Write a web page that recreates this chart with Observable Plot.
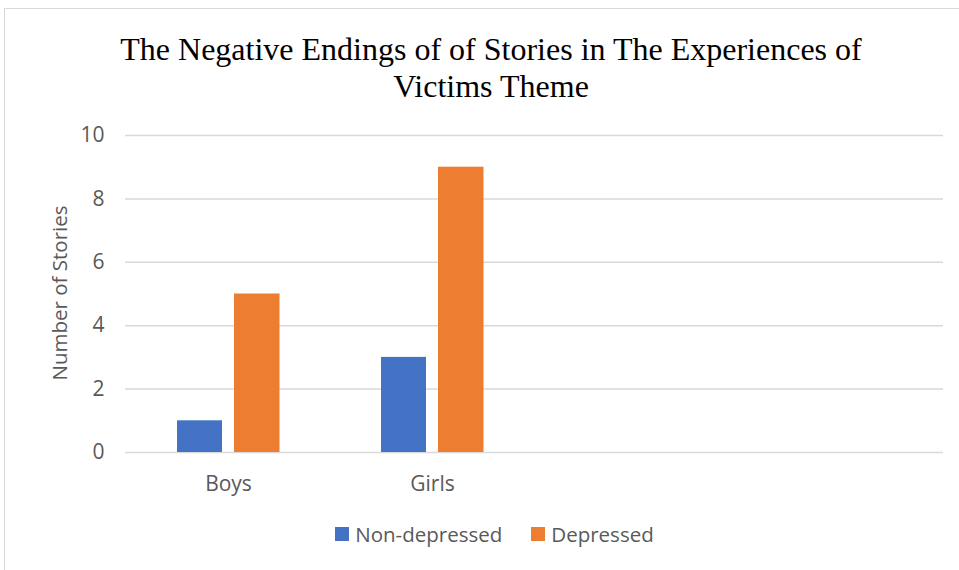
<!DOCTYPE html>
<html><head><meta charset="utf-8">
<script src="https://cdn.jsdelivr.net/npm/d3@7"></script>
<script src="https://cdn.jsdelivr.net/npm/@observablehq/plot@0.6"></script>
<style>
html,body{margin:0;padding:0;background:#fff;overflow:hidden;width:959px;height:570px;}
#frame{position:absolute;left:4px;top:8px;width:1000px;height:620px;border:1px solid #d9d9d9;box-sizing:border-box;}
#title{position:absolute;left:0;top:31px;width:982px;text-align:center;font-family:"Liberation Serif","Times New Roman",serif;font-size:32px;line-height:37px;color:#000;}
#chart{position:absolute;left:0;top:120px;}
#chart svg text{font-size:21px !important;fill:#595959;}
#ylabel{position:absolute;left:59px;top:293px;transform:translate(-50%,-50%) rotate(-90deg);white-space:nowrap;font-family:"Open Sans",sans-serif;font-size:20.5px;color:#595959;}
#legend{position:absolute;top:520px;left:0;width:989px;display:flex;justify-content:center;gap:29px;font-family:"Open Sans",sans-serif;font-size:20.5px;color:#595959;}
#legend span.item{display:flex;align-items:center;gap:6px;}
#legend span.sw{display:inline-block;width:14px;height:14px;}
</style></head>
<body>
<div id="frame"></div>
<div id="title">The Negative Endings of of Stories in The Experiences of<br>Victims Theme</div>
<div id="chart"></div>
<div id="ylabel">Number of Stories</div>
<div id="legend"></div>
<script>
const categories = ["Boys", "Girls"];
const blankSlots = [" ", "  "];
const seriesNames = ["Non-depressed", "Depressed"];
const nonDepressed = [1, 3];
const depressed = [5, 9];
const yTicks = [0, 2, 4, 6, 8, 10];
const seriesColors = ["#4472C4", "#ED7D31"];

const rowsND = categories.map((c, i) => ({cat: c, value: nonDepressed[i]}));
const rowsD = categories.map((c, i) => ({cat: c, value: depressed[i]}));

const chart = Plot.plot({
  width: 959,
  height: 400,
  marginLeft: 125,
  marginRight: 16,
  marginTop: 15,
  marginBottom: 68,
  style: {fontFamily: '"Open Sans", sans-serif', fontSize: "21px", color: "#595959", background: "transparent", overflow: "visible"},
  x: {domain: [...categories, ...blankSlots], padding: 0, tickSize: 0, tickPadding: 24, label: null},
  y: {domain: [0, 10], ticks: yTicks, tickSize: 0, tickPadding: 21, label: null},
  marks: [
    Plot.ruleY(yTicks, {stroke: "#d9d9d9", strokeWidth: 1.5}),
    Plot.barY(rowsND, {x: "cat", y: "value", fill: seriesColors[0], insetLeft: 51, insetRight: 108}),
    Plot.barY(rowsD, {x: "cat", y: "value", fill: seriesColors[1], insetLeft: 108, insetRight: 50.5})
  ]
});
document.getElementById("chart").appendChild(chart);

const legend = document.getElementById("legend");
seriesNames.forEach((n, i) => {
  const item = document.createElement("span");
  item.className = "item";
  const sw = document.createElement("span");
  sw.className = "sw";
  sw.style.background = seriesColors[i];
  item.appendChild(sw);
  item.appendChild(document.createTextNode(n));
  legend.appendChild(item);
});
</script>
</body></html>
